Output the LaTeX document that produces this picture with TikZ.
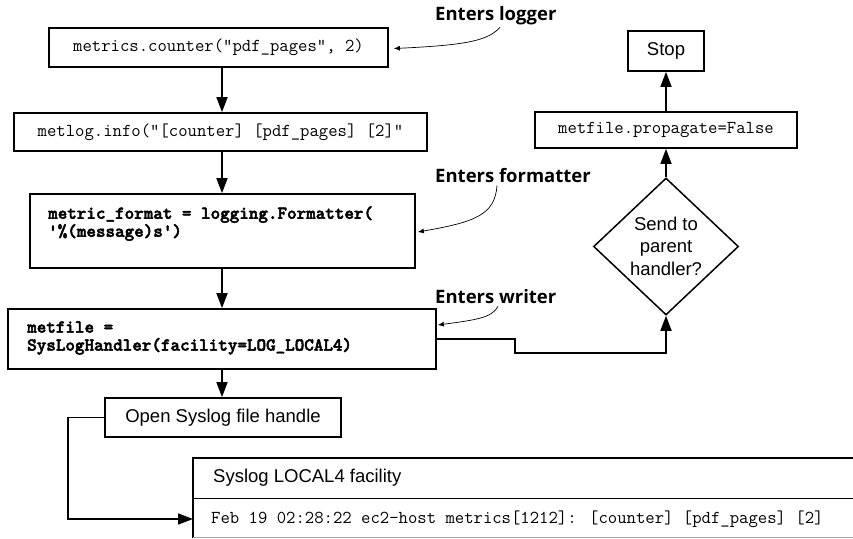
\documentclass[tikz,border=0pt]{standalone}
\usepackage{fontspec}
\setmainfont{Liberation Sans}
\newfontfamily\notefont{Open Sans}
\newfontfamily\boldmono[FakeBold=2.5]{lmmonolt10-bold.otf}
\usetikzlibrary{arrows.meta,calc,shapes.geometric}
\tikzset{
  box/.style={draw,line width=1.7pt,inner sep=0pt,anchor=center},
  codetext/.style={font=\ttfamily\fontsize{18.2}{18}\selectfont},
  boldcode/.style={font=\boldmono\fontsize{18.2}{18}\selectfont,align=left,anchor=west,inner sep=0pt},
  sanstext/.style={font=\fontsize{18.5}{22.5}\selectfont},
  note/.style={font=\notefont\bfseries\fontsize{18.5}{20}\selectfont,inner sep=0pt,anchor=west},
  mainarrow/.style={line width=1.7pt,-{Triangle[length=15pt,width=11pt]}},
  notearrow/.style={line width=0.7pt,-{Latex[length=6pt,width=5pt]}},
}
\begin{document}
\begin{tikzpicture}[x=1pt,y=-1pt]
\useasboundingbox (0,0) rectangle (853,538);
\coordinate (c) at (222,0);
% left column boxes
\node[box,codetext,minimum width=339pt,minimum height=39pt] (b1) at (218.5,47.5) {metrics.counter("pdf\_pages", 2)};
\node[box,codetext,minimum width=413pt,minimum height=38pt] (b2) at (220.5,132) {metlog.info("[counter] [pdf\_pages] [2]"};
\node[box,minimum width=385pt,minimum height=74pt] (b3) at (222.5,231) {};
\node[boldcode] (t3) at (48,223.5) {metric\_format = logging.Formatter(\\'\%(message)s')};
\node[box,minimum width=428pt,minimum height=60pt] (b4) at (222,339) {};
\node[boldcode] (t4) at (27,338) {metfile =\\SysLogHandler(facility=LOG\_LOCAL4)};
\node[box,sanstext,minimum width=236pt,minimum height=39pt] (b5) at (223,417.5) {Open Syslog file handle};
% right column
\node[box,sanstext,minimum width=76pt,minimum height=40pt] (stop) at (666,51) {Stop};
\node[box,codetext,minimum width=262pt,minimum height=36pt] (prop) at (666,130) {metfile.propagate=False};
\node[draw,line width=1.5pt,diamond,minimum width=145pt,minimum height=137pt,inner sep=0pt] (dec) at (666,246.5) {};
\node[sanstext,align=center,inner sep=0pt] (dect) at (666,246) {Send to\\parent\\handler?};
% syslog box
\node[inner sep=0pt,minimum width=660pt,minimum height=40pt,anchor=north west] (syshead) at (193,458) {};
\node[inner sep=0pt,minimum width=660pt,minimum height=40pt,anchor=north west] (sysentry) at (193,498) {};
\draw[line width=1.7pt] (syshead.north east) -- (syshead.north west) -- (sysentry.south west);
\draw[line width=1pt] (syshead.south west) -- (syshead.south east);
\draw[line width=1pt,gray!70] ([yshift=1pt]sysentry.south west) -- ([yshift=1pt]sysentry.south east);
\node[sanstext,anchor=west,inner sep=0pt] (sysheadt) at (213,478) {Syslog LOCAL4 facility};
\node[codetext,anchor=west,inner sep=0pt] (sysentryt) at (211,519) {Feb 19 02:28:22 ec2-host metrics[1212]: [counter] [pdf\_pages] [2]};
% main arrows
\draw[mainarrow] (b1.south -| c) -- (b2.north -| c);
\draw[mainarrow] (b2.south -| c) -- (b3.north -| c);
\draw[mainarrow] (b3.south -| c) -- (b4.north -| c);
\draw[mainarrow] (b4.south -| c) -- (b5.north -| c);
\draw[mainarrow] (b5.west) -- (68,417.5) -- (68,519) -- (sysentry.west |- 0,519);
\draw[mainarrow] (b4.east) -- (515,339) -- (515,353) -- (666,353) -- (dec.south);
\draw[mainarrow] (dec.north) -- (prop.south);
\draw[mainarrow] (prop.north) -- (stop.south);
% annotations
\node[note] (nl) at (435,16) {Enters logger};
\node[note] (nf) at (435,176) {Enters formatter};
\node[note] (nw) at (435,297) {Enters writer};
\coordinate (sl) at ($(nl.south west)+(65,2)$);
\coordinate (sf) at ($(nf.south west)+(62,2)$);
\coordinate (sw) at ($(nw.south west)+(63,2)$);
\draw[notearrow] (sl) .. controls (488,40) and (470,45) .. ([xshift=5pt,yshift=-1pt]b1.east);
\draw[notearrow] (sf) .. controls (495,215) and (475,222) .. ([xshift=2pt,yshift=-1pt]b3.east);
\draw[notearrow] (sw) .. controls (492,318) and (475,320) .. ([xshift=1pt]b4.east |- 0,325);
\end{tikzpicture}
\end{document}
